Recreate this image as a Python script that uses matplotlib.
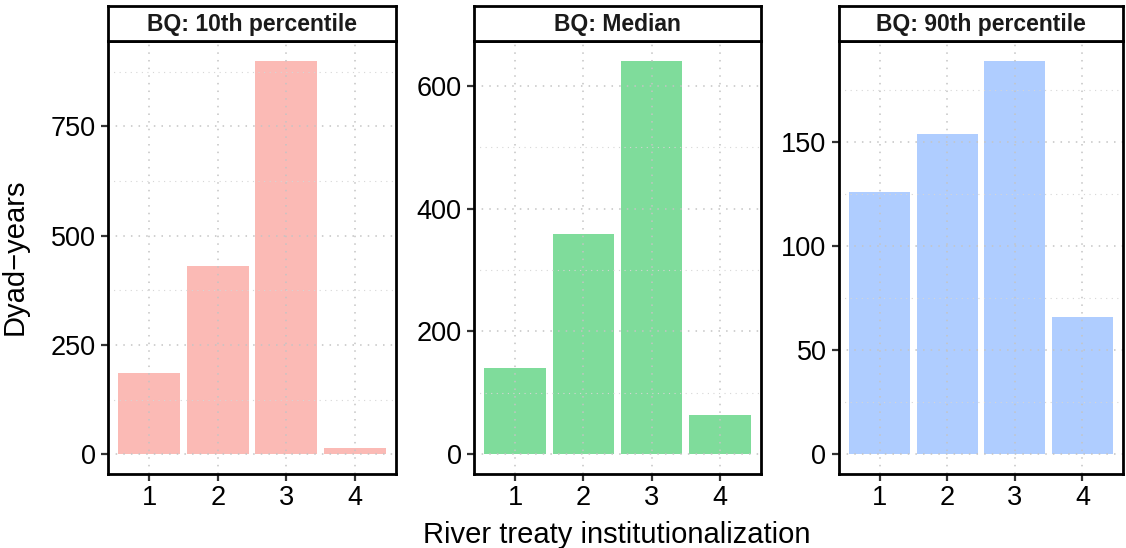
import numpy as np
import matplotlib
matplotlib.use("Agg")
import matplotlib.pyplot as plt
from matplotlib.ticker import MultipleLocator

plt.rcParams['font.family'] = ['Liberation Sans', 'DejaVu Sans']

levels = [1, 2, 3, 4]
panel_titles = ["BQ: 10th percentile", "BQ: Median", "BQ: 90th percentile"]
p10_counts = [186, 430, 900, 14]
median_counts = [141, 359, 641, 64]
p90_counts = [126, 154, 189, 66]
bar_colors = ["#F8766D", "#00BA38", "#619CFF"]
major_steps = [250, 200, 50]

W, H = 1126, 548
fig = plt.figure(figsize=(W / 100, H / 100), dpi=100)

# panel boxes in pixels: (left, right)
panel_x = [(108, 396), (474, 761), (839, 1123)]
top_px, bottom_px, strip_top = 41, 474, 6

series = [p10_counts, median_counts, p90_counts]
for i, (vals, col, title, step) in enumerate(zip(series, bar_colors, panel_titles, major_steps)):
    x0, x1 = panel_x[i]
    ax = fig.add_axes([x0 / W, (H - bottom_px) / H, (x1 - x0) / W, (bottom_px - top_px) / H])
    ax.bar(levels, vals, width=0.9, color=col, alpha=0.5, linewidth=0, zorder=1)
    ymax = max(vals)
    ax.set_ylim(-0.05 * ymax, 1.05 * ymax)
    ax.set_xlim(0.4, 4.6)
    ax.set_xticks(levels)
    ax.yaxis.set_major_locator(MultipleLocator(step))
    ax.yaxis.set_minor_locator(MultipleLocator(step / 2))
    ax.grid(True, which='major', color='#C4C4C4', linewidth=1.1, linestyle=(0, (1, 4)), zorder=2)
    ax.grid(True, which='minor', axis='y', color='#D6D6D6', linewidth=0.8, linestyle=(0, (1, 4)), zorder=2)
    ax.set_axisbelow(False)
    ax.tick_params(which='major', direction='out', length=5, width=1.6, color='#333333',
                   labelsize=19.5, labelcolor='black')
    ax.tick_params(axis='y', pad=4)
    ax.tick_params(axis='x', pad=3)
    ax.tick_params(which='minor', length=0)
    for sp in ax.spines.values():
        sp.set_linewidth(2.0)
        sp.set_color('black')
        sp.set_zorder(5)

    # strip on top
    sax = fig.add_axes([x0 / W, (H - top_px) / H, (x1 - x0) / W, (top_px - strip_top) / H])
    sax.set_xticks([])
    sax.set_yticks([])
    for sp in sax.spines.values():
        sp.set_linewidth(2.0)
        sp.set_color('black')
    sax.text(0.5, 0.48, title, ha='center', va='center', fontsize=16.5, fontweight='bold',
             color='#1A1A1A', transform=sax.transAxes)

fig.text(15 / W, 1 - 257 / H, "Dyad\u2212years", rotation=90, ha='center', va='center', fontsize=21)
fig.text(617 / W, 1 - 543 / H, "River treaty institutionalization", ha='center', va='baseline', fontsize=21)

fig.savefig("out.png", dpi=100)
